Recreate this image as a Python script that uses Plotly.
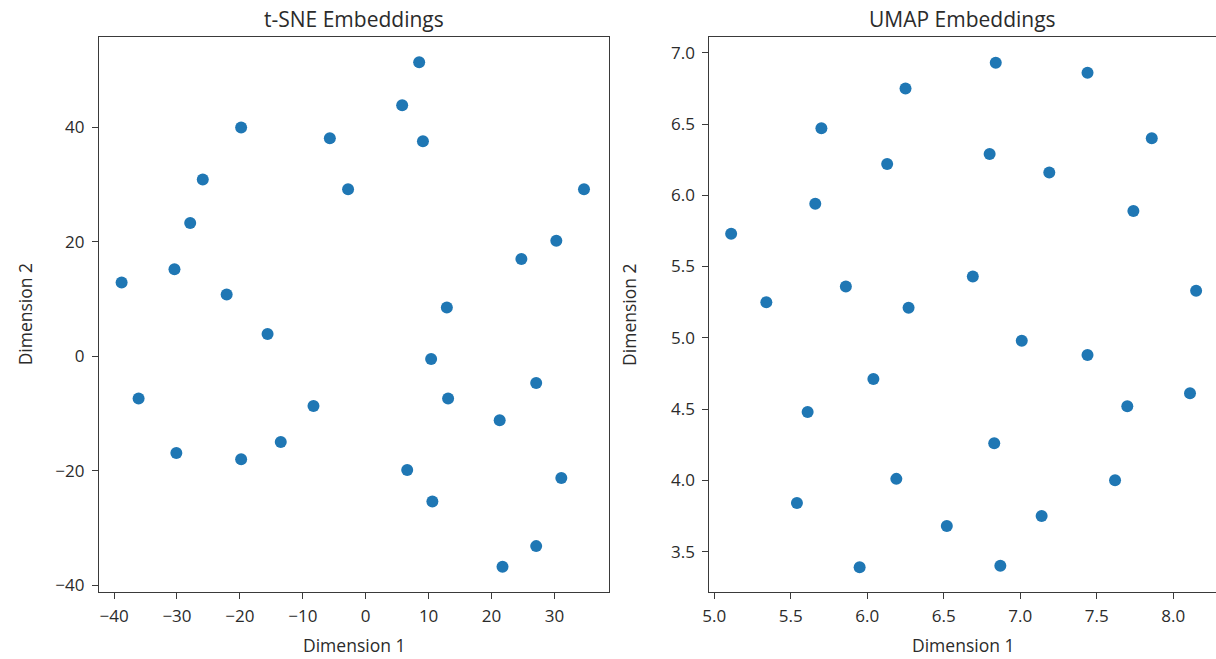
import plotly.graph_objects as go

# t-SNE embeddings
tsne_x = [8.5, 5.8, -19.8, -5.7, 9.1, -25.9, -2.8, 34.7, -27.9, 30.3, 24.75, -30.4, -38.8, -22.1, 12.9,
          -15.6, 10.4, 27.1, -36.1, 13.1, -8.3, 21.3, -13.5, -30.1, -19.8, 6.6, 31.1, 10.6, 27.1, 21.75]
tsne_y = [51.4, 43.9, 40.0, 38.1, 37.6, 30.9, 29.2, 29.2, 23.3, 20.2, 17.0, 15.2, 12.9, 10.8, 8.5,
          3.9, -0.5, -4.7, -7.4, -7.4, -8.7, -11.2, -15.0, -16.9, -18.0, -19.9, -21.3, -25.4, -33.2, -36.8]

# UMAP embeddings
umap_x = [6.84, 7.44, 6.25, 5.70, 7.86, 6.80, 6.13, 7.19, 5.66, 7.74, 5.11, 6.69, 8.15, 5.86, 5.34,
          6.27, 7.01, 7.44, 6.04, 8.11, 7.70, 5.61, 6.83, 6.19, 7.62, 5.54, 7.14, 6.52, 6.87, 5.95]
umap_y = [6.93, 6.86, 6.75, 6.47, 6.40, 6.29, 6.22, 6.16, 5.94, 5.89, 5.73, 5.43, 5.33, 5.36, 5.25,
          5.21, 4.98, 4.88, 4.71, 4.61, 4.52, 4.48, 4.26, 4.01, 4.00, 3.84, 3.75, 3.68, 3.40, 3.39]

titles = ["t-SNE Embeddings", "UMAP Embeddings"]
xlabel = "Dimension 1"
ylabel = "Dimension 2"

W, H = 1216, 659
FONT = "Open Sans"
TXT = "#2b2b2b"
BLUE = "#1f77b4"

fig = go.Figure()
fig.add_trace(go.Scatter(x=tsne_x, y=tsne_y, mode="markers", xaxis="x", yaxis="y",
                         marker=dict(color=BLUE, size=12, line=dict(width=0)), showlegend=False))
fig.add_trace(go.Scatter(x=umap_x, y=umap_y, mode="markers", xaxis="x2", yaxis="y2",
                         marker=dict(color=BLUE, size=12, line=dict(width=0)), showlegend=False))

ytop, ybot = 37.3, 595.5
yd = [(H - ybot) / H, (H - ytop) / H]
d1 = [92.5 / W, 605 / W]
d2 = [706.5 / W, 1.0]

axis_common = dict(showgrid=False, zeroline=False, showline=True, linecolor="#3a3a3a", linewidth=1.3,
                   ticks="outside", ticklen=6, tickwidth=1.1, tickcolor="#3a3a3a")
xfont = dict(family=FONT, size=17, color=TXT)

fig.update_layout(
    width=W, height=H,
    margin=dict(l=0, r=0, t=0, b=0),
    plot_bgcolor="white", paper_bgcolor="white",
    xaxis=dict(domain=d1, range=[-42.4, 38.6], tickvals=[-40, -30, -20, -10, 0, 10, 20, 30],
               mirror=True, anchor="y", tickfont=xfont, ticklabelstandoff=3, **axis_common),
    yaxis=dict(domain=yd, range=[-41.2, 55.8], tickvals=[-40, -20, 0, 20, 40],
               mirror=True, anchor="x", tickfont=xfont, ticklabelstandoff=4, **axis_common),
    xaxis2=dict(domain=d2, range=[4.968, 8.28], tickvals=[5.0, 5.5, 6.0, 6.5, 7.0, 7.5, 8.0],
                tickformat=".1f", mirror=True, anchor="y2", tickfont=xfont, ticklabelstandoff=3, **axis_common),
    yaxis2=dict(domain=yd, range=[3.217, 7.11], tickvals=[3.5, 4.0, 4.5, 5.0, 5.5, 6.0, 6.5, 7.0],
                tickformat=".1f", mirror=False, anchor="x2", tickfont=xfont, ticklabelstandoff=4, **axis_common),
)

ann = []
for d, t in [(d1, titles[0]), (d2, titles[1])]:
    cx = (d[0] + d[1]) / 2
    ann.append(dict(text=t, x=cx, y=1 - 19 / H, xref="paper", yref="paper",
                    xanchor="center", yanchor="middle", showarrow=False,
                    font=dict(family=FONT, size=21, color=TXT)))
    ann.append(dict(text=xlabel, x=cx, y=1 - 649 / H, xref="paper", yref="paper",
                    xanchor="center", yanchor="middle", showarrow=False,
                    font=dict(family=FONT, size=17.5, color=TXT)))
for xpix in (19, 626):
    ann.append(dict(text=ylabel, x=xpix / W, y=(yd[0] + yd[1]) / 2, xref="paper", yref="paper",
                    xanchor="center", yanchor="middle", showarrow=False, textangle=-90,
                    font=dict(family=FONT, size=17.5, color=TXT)))
fig.update_layout(annotations=ann)

fig.write_html("out.html")
